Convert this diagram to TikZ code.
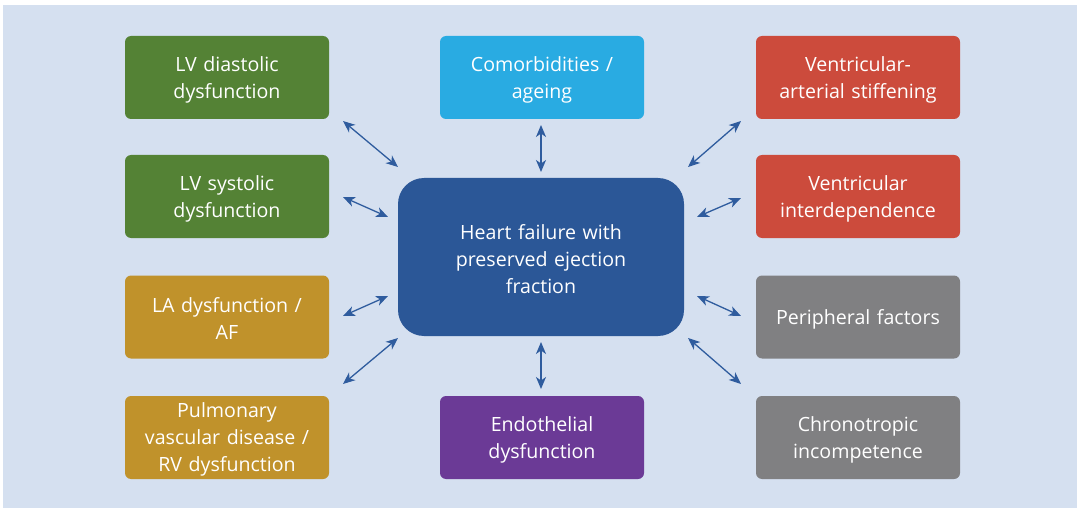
\documentclass[tikz,border=0pt]{standalone}
\usepackage{fontspec}
\setmainfont{Open Sans}
\usetikzlibrary{arrows.meta}
\definecolor{bgblue}{HTML}{D5E0F0}
\definecolor{cgreen}{HTML}{548235}
\definecolor{ccyan}{HTML}{29ABE2}
\definecolor{cred}{HTML}{CC4B3C}
\definecolor{cgold}{HTML}{C0922B}
\definecolor{cgray}{HTML}{808082}
\definecolor{cpurple}{HTML}{6B3A96}
\definecolor{cmain}{HTML}{2B5797}
\definecolor{carrow}{HTML}{2F5C9E}
\tikzset{
  px/.style={x=1pt,y=-1pt},
  caption/.style={text width=270pt, align=center, text=white, inner sep=0pt,
    font=\fontsize{19.6}{27}\selectfont, yshift=-2pt},
  factor/.style 2 args={rounded corners=6pt, minimum width=204pt, minimum height=83pt,
    inner sep=0pt, fill=#1, label={[caption]center:{#2}}},
  hub/.style={rounded corners=26pt, minimum width=286pt, minimum height=158pt,
    inner sep=0pt, fill=cmain, label={[caption]center:{#1}}},
  link/.style={carrow, line width=1.3pt, {Stealth[length=12pt,width=10pt,inset=3.5pt]}-{Stealth[length=12pt,width=10pt,inset=3.5pt]}}
}
\begin{document}
\begin{tikzpicture}[px]
\fill[white] (0,0) rectangle (1077,508);
\useasboundingbox (0,0) rectangle (1077,508);
\fill[bgblue] (3,5) rectangle (1077,508);

% central condition
\node[hub={Heart failure with\\preserved ejection\\fraction}] (hf) at (541,257) {};

% left column
\node[factor={cgreen}{LV diastolic\\dysfunction}] (lvd) at (227,77.5) {};
\node[factor={cgreen}{LV systolic\\dysfunction}] (lvs) at (227,196.5) {};
\node[factor={cgold}{LA dysfunction /\\AF}] (la) at (227,317) {};
\node[factor={cgold}{Pulmonary\\vascular disease /\\RV dysfunction}] (pv) at (227,437.5) {};

% middle column
\node[factor={ccyan}{Comorbidities /\\ageing}] (com) at (542,77.5) {};
\node[factor={cpurple}{Endothelial\\dysfunction}] (endo) at (542,437.5) {};

% right column
\node[factor={cred}{Ventricular-\\arterial stiffening}] (vas) at (858,77.5) {};
\node[factor={cred}{Ventricular\\interdependence}] (vi) at (858,196.5) {};
\node[factor={cgray}{Peripheral factors}] (pf) at (858,317) {};
\node[factor={cgray}{Chronotropic\\incompetence}] (ci) at (858,437.5) {};

% arrow end points
\coordinate (a1) at (343,121); \coordinate (b1) at (398,167);
\coordinate (a2) at (541,125); \coordinate (b2) at (541,172);
\coordinate (a3) at (741,121); \coordinate (b3) at (688,167);
\coordinate (a4) at (343,197); \coordinate (b4) at (388,217);
\coordinate (a5) at (741,198); \coordinate (b5) at (697,217);
\coordinate (a6) at (343,316); \coordinate (b6) at (388,296);
\coordinate (a7) at (741,316); \coordinate (b7) at (697,296);
\coordinate (a8) at (343,384); \coordinate (b8) at (398,338);
\coordinate (a9) at (541,389); \coordinate (b9) at (541,342);
\coordinate (a10) at (741,384); \coordinate (b10) at (688,338);

\foreach \i in {1,...,10} \draw[link] (a\i) -- (b\i);
\end{tikzpicture}
\end{document}
